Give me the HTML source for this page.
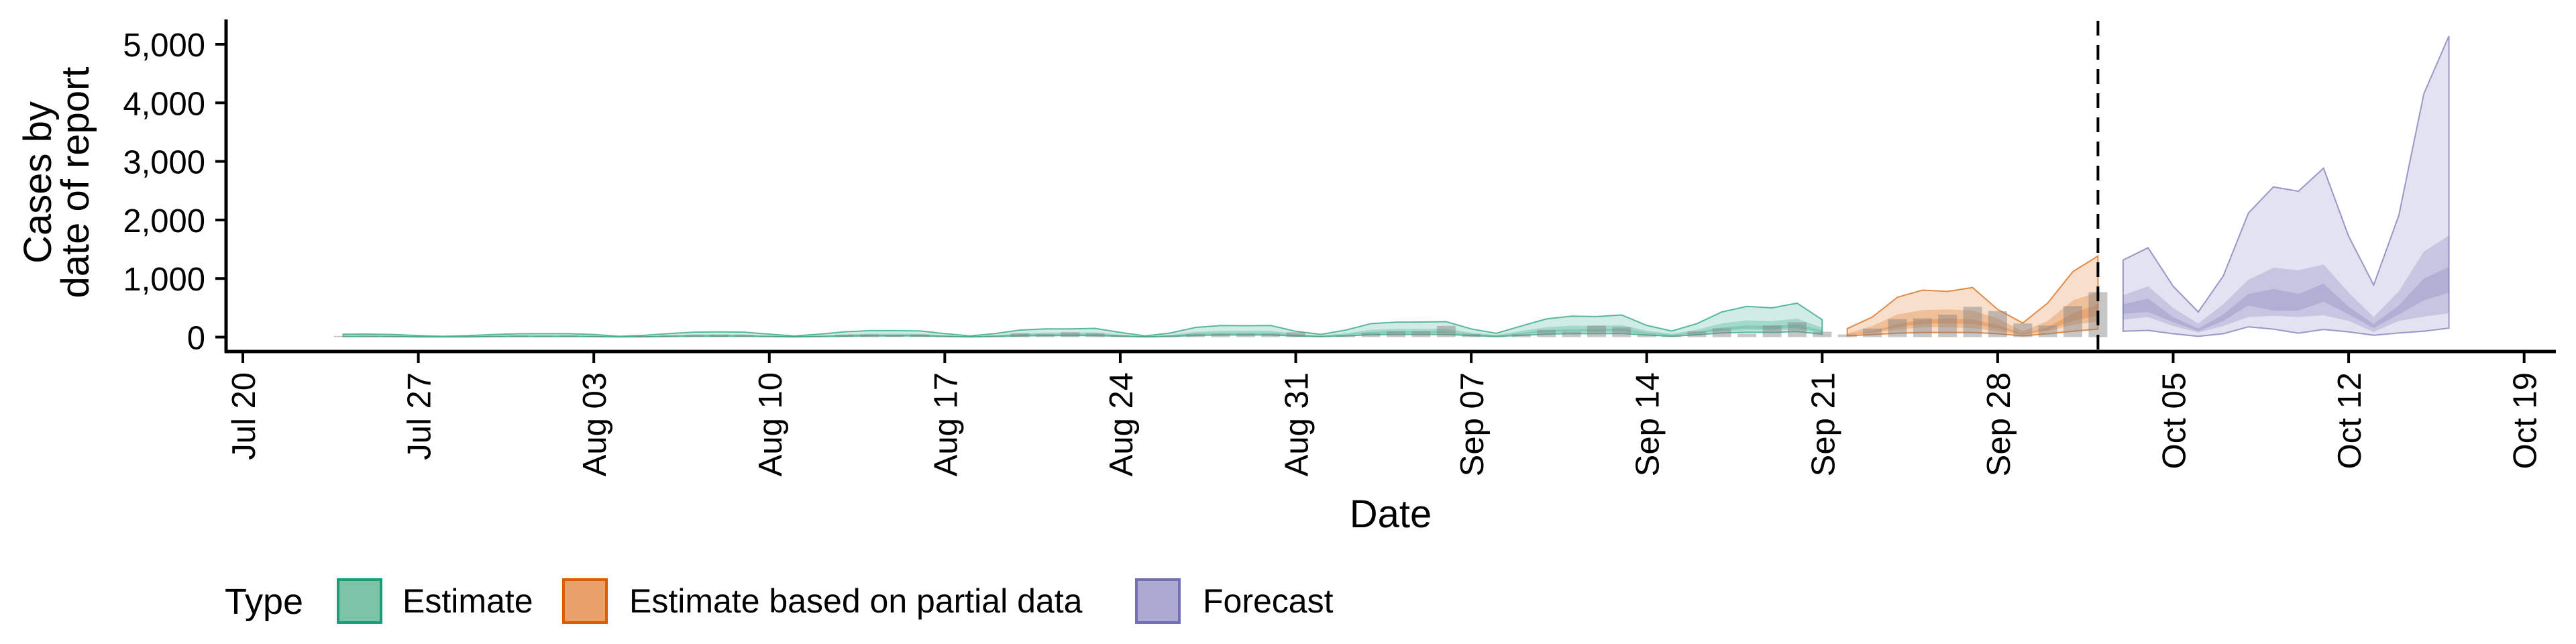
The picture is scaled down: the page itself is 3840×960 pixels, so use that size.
<!DOCTYPE html>
<html><head><meta charset="utf-8">
<style>
html,body{margin:0;padding:0;background:#fff;width:3840px;height:960px;overflow:hidden}
svg{display:block;font-family:"Liberation Sans",Arial,sans-serif}
</style></head>
<body>
<svg id="chart" width="3840" height="960" viewBox="0 0 3840 960" xmlns="http://www.w3.org/2000/svg">
<g id="bands"></g>
<g id="bars"></g>
<g id="axes"></g>
<text transform="translate(84,272) rotate(-90)" text-anchor="middle" font-size="58"><tspan x="0" dy="-8">Cases by</tspan><tspan x="0" dy="56">date of report</tspan></text>
<text x="2073" y="786" text-anchor="middle" font-size="58">Date</text>
<g>
<text x="335" y="915" font-size="54">Type</text>
<rect x="504" y="864" width="64" height="64" fill="#7cc3a8" stroke="#1b9e77" stroke-width="4"/>
<text x="600" y="913" font-size="50">Estimate</text>
<rect x="840" y="864" width="64" height="64" fill="#e9a06b" stroke="#d95f02" stroke-width="4"/>
<text x="938" y="913" font-size="50">Estimate based on partial data</text>
<rect x="1694" y="864" width="64" height="64" fill="#aca9d2" stroke="#7570b3" stroke-width="4"/>
<text x="1793" y="913" font-size="50">Forecast</text>
</g>
</svg>
<script>
// Estimate: days 4..63 (day 0 = Jul 20)
const estStart = 4;
const estU90 = [50,52,45,25,15,25,45,57,58,58,45,15,30,60,85,88,85,50,20,50,90,110,110,105,60,19,60,120,141,140,149,80,20,70,165,198,195,198,100,46,120,230,256,258,263,140,65,190,310,359,350,378,200,103,230,430,523,500,580,298];
const estL90 = [10,10,8,4,2,4,8,10,10,10,8,2,5,10,15,15,15,8,3,8,15,20,20,20,10,3,10,20,25,25,25,14,3,12,28,35,35,35,18,8,20,40,45,45,45,25,10,30,50,60,58,62,35,15,40,70,85,80,95,50];
const estU50 = [28,28,25,14,8,14,25,32,32,32,25,8,16,32,46,48,46,28,11,28,48,60,60,57,32,10,32,65,78,76,80,44,11,38,90,108,106,108,55,25,65,125,140,140,143,76,35,105,170,195,190,205,110,56,125,235,285,272,315,160];
const estL50 = [12,12,10,6,3,6,10,13,13,13,10,3,7,13,19,20,19,11,4,11,20,24,24,23,13,4,13,27,31,31,33,18,4,15,36,44,43,44,22,10,27,51,57,57,58,31,14,42,68,79,77,83,44,23,51,95,115,110,128,66];
const estU20 = [19,20,17,10,6,10,17,22,22,22,17,6,11,23,32,33,32,19,8,19,34,42,42,40,23,7,23,46,54,53,57,30,8,27,63,75,74,75,38,17,46,87,98,98,100,53,25,72,118,136,133,144,76,39,87,163,199,190,220,113];
const estL20 = [14,15,13,7,4,7,13,16,16,16,13,4,8,17,24,25,24,14,6,14,25,31,31,29,17,5,17,34,39,39,42,22,6,20,46,55,55,55,28,13,34,64,72,72,74,39,18,53,87,100,98,106,56,29,64,120,146,140,162,83];
// Partial data: days 64..74
const parStart = 64;
const parU90 = [145,342,680,802,780,846,473,241,583,1118,1385];
const parL90 = [22,44,66,79,79,79,57,22,57,101,136];
const parU50 = [66,189,386,460,473,452,320,101,276,627,767];
const parL50 = [31,66,123,167,167,153,101,35,101,210,267];
const parU20 = [48,101,224,298,320,298,210,57,167,408,561];
const parL20 = [39,79,167,224,232,224,145,44,123,276,364];
// Forecast: days 75..88
const fcStart = 75;
const fcU90 = [1315,1526,868,430,1043,2117,2565,2490,2885,1723,890,2074,4156,5142];
const fcL90 = [100,114,57,13,57,175,136,66,131,88,31,70,100,153];
const fcU50 = [715,868,495,232,561,978,1184,1140,1241,758,342,780,1460,1732];
const fcL50 = [298,342,189,79,189,342,364,342,373,276,88,276,351,408];
const fcU20 = [561,658,342,145,386,737,824,737,912,517,224,539,1000,1197];
const fcL20 = [399,430,254,101,276,539,452,452,605,386,153,386,627,758];
// Reported cases: days 4..74
const barStart = 4;
const reported = [20,25,22,10,5,12,20, 30,25,30,15,5,15,30, 35,40,35,20,8,20,40, 45,40,45,25,8,25,65, 50,84,65,30,10,25,50, 55,60,55,84,15,30,70, 103,103,191,50,15,50,122, 92,198,168,46,20,100,149, 60,202,254,92,44,145,307,320,381,517,443,232,197,530,767];
const yTicks = [0,1000,2000,3000,4000,5000];
const yTickLabels = ["0","1,000","2,000","3,000","4,000","5,000"];
const xTickDays = [0,7,14,21,28,35,42,49,56,63,70,77,84,91];
const xTickLabels = ["Jul 20","Jul 27","Aug 03","Aug 10","Aug 17","Aug 24","Aug 31","Sep 07","Sep 14","Sep 21","Sep 28","Oct 05","Oct 12","Oct 19"];
const forecastDay = 74;

const NS = "http://www.w3.org/2000/svg";
function xd(d){ return 362 + d*37.37; }
function yv(v){ return 502.5 - v*0.0873; }
function el(tag, attrs, parent){ const e=document.createElementNS(NS,tag); for(const k in attrs) e.setAttribute(k,attrs[k]); parent.appendChild(e); return e; }

const bands = document.getElementById('bands');
function ribbon(start, up, lo, fill, op, stroke, name){
  let pts=[];
  for(let i=0;i<up.length;i++) pts.push(xd(start+i).toFixed(1)+","+yv(up[i]).toFixed(1));
  for(let i=lo.length-1;i>=0;i--) pts.push(xd(start+i).toFixed(1)+","+yv(lo[i]).toFixed(1));
  const p = el('polygon',{points:pts.join(' '),fill:fill,'fill-opacity':op,stroke:stroke||'none','stroke-width':stroke?2:0,'stroke-opacity':0.7},bands);
  
  
}
ribbon(estStart, estU90, estL90, '#1b9e77', 0.2, '#1b9e77', 'estimate-band-90');
ribbon(estStart, estU50, estL50, '#1b9e77', 0.25, null, 'estimate-band-50');
ribbon(estStart, estU20, estL20, '#1b9e77', 0.25, null, 'estimate-band-20');
ribbon(parStart, parU90, parL90, '#d95f02', 0.2, '#d95f02', 'partial-band-90');
ribbon(parStart, parU50, parL50, '#d95f02', 0.25, null, 'partial-band-50');
ribbon(parStart, parU20, parL20, '#d95f02', 0.25, null, 'partial-band-20');
ribbon(fcStart, fcU90, fcL90, '#7570b3', 0.2, '#7570b3', 'forecast-band-90');
ribbon(fcStart, fcU50, fcL50, '#7570b3', 0.25, null, 'forecast-band-50');
ribbon(fcStart, fcU20, fcL20, '#7570b3', 0.25, null, 'forecast-band-20');

const bars = document.getElementById('bars');
const bw = 28;
for(let i=0;i<reported.length;i++){
  const x = xd(barStart+i) - bw/2;
  const y = yv(reported[i]);
  const r = el('rect',{x:x.toFixed(1),y:y.toFixed(1),width:bw,height:(yv(0)-y).toFixed(1),fill:'#808080','fill-opacity':0.45},bars);
  
  
}

const axes = document.getElementById('axes');
const dl = el('line',{x1:xd(forecastDay),x2:xd(forecastDay),y1:31,y2:524,stroke:'#000','stroke-width':4,'stroke-dasharray':'22 14'},axes);


const ya = el('line',{x1:337,x2:337,y1:29,y2:526,stroke:'#000','stroke-width':5},axes);


const xa = el('line',{x1:335,x2:3810,y1:524,y2:524,stroke:'#000','stroke-width':5},axes);


for(let i=0;i<yTicks.length;i++){
  const y = yv(yTicks[i]);
  const t = el('line',{x1:321,x2:337,y1:y,y2:y,stroke:'#000','stroke-width':4},axes);
  
  
  const tx = el('text',{x:306,y:y+18,'text-anchor':'end','font-size':49,fill:'#000'},axes);
  tx.textContent = yTickLabels[i];
  
  
}
for(let i=0;i<xTickDays.length;i++){
  const x = xd(xTickDays[i]);
  const t = el('line',{x1:x,x2:x,y1:524,y2:541,stroke:'#000','stroke-width':4},axes);
  
  
  const tx = el('text',{transform:`translate(${(x+18).toFixed(1)},555) rotate(-90)`,'text-anchor':'end','font-size':49,fill:'#000'},axes);
  tx.textContent = xTickLabels[i];
  
  
}
</script>
</body></html>
